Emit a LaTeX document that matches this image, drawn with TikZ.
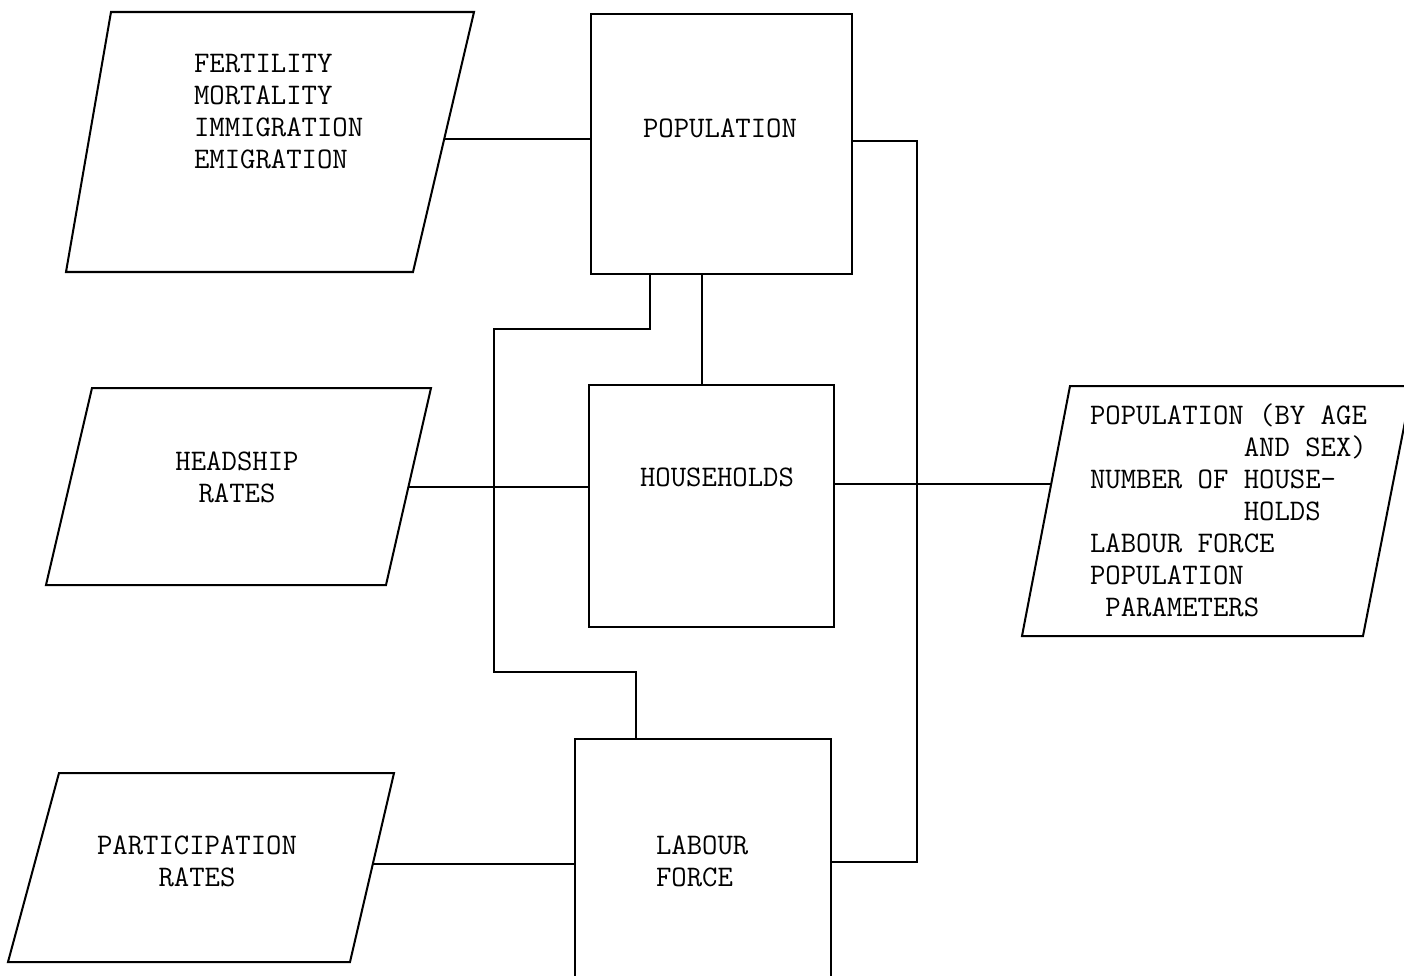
\documentclass[tikz,border=0pt]{standalone}
\usetikzlibrary{calc}
\begin{document}
\begin{tikzpicture}[x=0.02cm, y=-0.02cm, line width=1.15pt, line join=miter,
  txt/.style={font=\ttfamily\fontsize{17}{18.2}\selectfont, inner sep=0pt},
  procbox/.style={draw, rectangle, inner sep=0pt, anchor=north west},
  link/.style={line width=1.15pt}]
  \useasboundingbox (0,0) rectangle (1404,975);
  \clip (0,0) rectangle (1404,975);

  % ---- input / output data (parallelograms) ----
  \draw (111,12) coordinate (fin-tl) -- (474,12) coordinate (fin-tr)
     -- (413,272) coordinate (fin-br) -- (66,272) coordinate (fin-bl) -- cycle;
  \draw (92,388) coordinate (hd-tl) -- (431,388) coordinate (hd-tr)
     -- (386,585) coordinate (hd-br) -- (46,585) coordinate (hd-bl) -- cycle;
  \draw (59,773) coordinate (pr-tl) -- (394,773) coordinate (pr-tr)
     -- (350,962) coordinate (pr-br) -- (8,962) coordinate (pr-bl) -- cycle;
  \draw (1070,386) coordinate (out-tl) -- (1412,386) coordinate (out-tr)
     -- (1363,636) coordinate (out-br) -- (1022,636) coordinate (out-bl) -- cycle;

  \node[txt, align=left, anchor=west] (fin-txt) at (193,112)
    {FERTILITY\\MORTALITY\\IMMIGRATION\\EMIGRATION};
  \node[txt, align=center] (hd-txt) at (237,477) {HEADSHIP\\RATES};
  \node[txt, align=center] (pr-txt) at (197,861) {PARTICIPATION\\RATES};
  \node[txt, align=left, anchor=west] (out-txt) at (1089,510)
    {POPULATION (BY AGE\\
     \phantom{NUMBER OFX}AND SEX)\\
     NUMBER OF HOUSE-\\
     \phantom{NUMBER OFX}HOLDS\\
     LABOUR FORCE\\
     POPULATION\\
     \phantom{X}PARAMETERS};

  % ---- process boxes ----
  \node[procbox, minimum width=5.22cm, minimum height=5.2cm] (pop) at (590,13) {};
  \node[procbox, minimum width=4.9cm, minimum height=4.84cm] (hh) at (588,384) {};
  \node[procbox, minimum width=5.12cm, minimum height=6cm] (lf) at (574,738) {};

  \node[txt] (pop-txt) at (720,128) {POPULATION};
  \node[txt] (hh-txt) at (717,477) {HOUSEHOLDS};
  \node[txt, align=left, anchor=west] (lf-txt) at (655,861) {LABOUR\\FORCE};

  % ---- connection points ----
  \coordinate (fin-out) at ($(fin-tr)!0.487!(fin-br)$);
  \coordinate (hd-out)  at ($(hd-tr)!0.503!(hd-br)$);
  \coordinate (pr-out)  at ($(pr-tr)!0.48!(pr-br)$);
  \coordinate (out-in)  at ($(out-tl)!0.39!(out-bl)$);
  \coordinate (pop-b1)  at ($(pop.south west)!0.23!(pop.south east)$);
  \coordinate (pop-b2)  at ($(pop.south west)!0.425!(pop.south east)$);
  \coordinate (pop-r)   at ($(pop.north east)!0.488!(pop.south east)$);
  \coordinate (lf-r)    at ($(lf.north east)!0.41!(lf.south east)$);
  \coordinate (lf-t)    at ($(lf.north west)!0.24!(lf.north east)$);
  \coordinate (busx)    at (917,0);
  \coordinate (loopx)   at (494,0);

  % ---- connectors ----
  \draw[link] (fin-out) -- (fin-out -| pop.west);
  \draw[link] (hd-out) -- (hd-out -| hh.west);
  \draw[link] (pr-out) -- (pr-out -| lf.west);
  \draw[link] (pop-b2) -- (pop-b2 |- hh.north);
  \draw[link] (pop-b1) -- ++(0,54) -| (loopx |- 0,672) -| (lf-t);
  \draw[link] (pop-r) -| (busx |- lf-r) -- (lf-r);
  \draw[link] (out-in -| hh.east) -- (out-in);
\end{tikzpicture}
\end{document}
